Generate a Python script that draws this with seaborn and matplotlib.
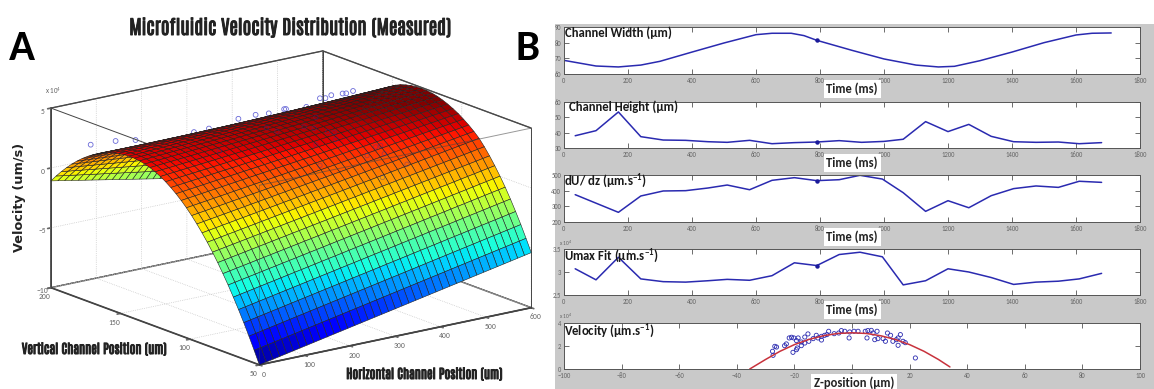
import numpy as np
import pandas as pd
import matplotlib
matplotlib.use("Agg")
import matplotlib.pyplot as plt
import matplotlib.patheffects as pe
from matplotlib import cm, colors
from matplotlib.patches import Rectangle
import seaborn as sns

W, H = 1154, 389

# ---------- panel A: velocity read along the two visible surface edges (x10^4 um/s)
vertical_pos = [50, 53.75, 57.5, 61.25, 65, 68.75, 72.5, 76.25, 80, 83.75, 87.5, 91.25, 95, 98.75,
                102.5, 106.25, 110, 113.75, 117.5, 121.25, 125, 128.75, 132.5, 136.25, 140, 143.75,
                147.5, 151.25, 155, 158.75, 162.5, 166.25, 170, 173.75, 177.5, 181.25, 185, 188.75,
                192.5, 196.25, 200]
edge_h0 = [-10.0, -8.95, -7.93, -6.96, -6.03, -5.15, -4.30, -3.51, -2.75, -2.04, -1.37, -0.75, -0.17,
           0.37, 0.86, 1.31, 1.71, 2.07, 2.39, 2.67, 2.90, 3.09, 3.23, 3.33, 3.39, 3.40, 3.37, 3.31,
           3.20, 3.06, 2.88, 2.65, 2.39, 2.09, 1.76, 1.38, 0.97, 0.51, 0.02, -0.51, -1.08]
edge_h600 = [-5.40, -4.37, -3.38, -2.45, -1.57, -0.74, 0.02, 0.73, 1.39, 1.99, 2.53, 2.95, 3.32, 3.65,
             3.95, 4.20, 4.42, 4.60, 4.75, 4.85, 4.90, 4.92, 4.90, 4.84, 4.74, 4.60, 4.40, 4.13, 3.80,
             3.40, 2.95, 2.43, 1.85, 1.20, 0.50, -0.30, -1.15, -2.10, -3.10, -4.20, -5.40]

# measured points behind the crest (y = 175)
back_h = [11, 66, 110, 239, 272, 337, 375, 404, 438, 442, 487, 517, 529, 542, 567, 575, 590]
back_z = [2.93, 2.80, 2.53, 2.17, 2.20, 2.50, 2.53, 2.42, 2.50, 2.48, 2.30, 2.78, 2.70, 2.84, 2.78, 2.73, 2.81]
# measured points faintly visible through the surface (y = 130)
thru_h = [483, 502, 513, 521, 571, 517, 379, 157, 261, 284, 344, 370, 366, 396, 410, 414, 370]
thru_z = [0.2, 0.77, 0.8, 0.04, -1.23, -1.9, 0.2, 3.15, 4.27, 3.8, 3.7, 4.3, 3.4, 2.9, 2.7, 2.1, 2.0]

# ---------- panel B
t_width = [0, 100, 170, 240, 300, 400, 500, 600, 650, 710, 750, 790, 900, 1000, 1100, 1170, 1220, 1300,
           1400, 1500, 1600, 1650, 1710]
channel_width = [68.7, 65.1, 64.5, 65.7, 68.1, 74.0, 79.8, 85.1, 86, 86, 84.5, 81.5, 75.1, 69.6, 65.7,
                 64.5, 64.9, 68.5, 74, 80, 84.9, 86, 86.2]
t_height = [35, 100, 170, 240, 310, 380, 450, 510, 580, 650, 720, 790, 860, 930, 1000, 1060, 1130, 1200,
            1265, 1335, 1405, 1475, 1545, 1610, 1680]
channel_height = [38.0, 41.3, 53.5, 37.4, 35.2, 35.0, 34.1, 33.7, 35, 32.8, 33.5, 33.9, 34.8, 33.7, 34.3,
                  35.7, 47.2, 40.7, 45.4, 37.6, 34.1, 33.7, 33.9, 32.8, 33.5]
t_grad = [35, 170, 240, 310, 380, 450, 510, 580, 650, 720, 790, 860, 925, 995, 1060, 1130, 1200, 1265,
          1335, 1405, 1475, 1545, 1610, 1680]
grad = [374.5, 261.7, 366, 398, 400, 417, 436, 406, 466, 483, 464, 470, 498, 474, 387, 268, 336, 291,
        368, 413, 430, 421, 460, 453]
t_umax = [35, 100, 170, 240, 310, 380, 450, 510, 580, 650, 720, 790, 860, 925, 995, 1060, 1130, 1200,
          1265, 1335, 1405, 1475, 1545, 1610, 1680]
umax = [3.07, 2.83, 3.32, 2.85, 2.79, 2.78, 2.81, 2.84, 2.82, 2.92, 3.20, 3.14, 3.38, 3.43, 3.33, 2.72,
        2.81, 3.07, 3.00, 2.88, 2.73, 2.78, 2.80, 2.85, 2.97]
z_fit = [-35.5, -30, -25, -20, -15, -10, -5, 0, 5, 10, 15, 20, 25, 30, 34]
v_fit = [0, 0.83, 1.54, 2.12, 2.57, 2.89, 3.09, 3.15, 3.09, 2.89, 2.57, 2.12, 1.54, 0.83, 0.18]
z_pts = [-27.6, -27.4, -26.8, -26.2, -23.4, -22.8, -21.8, -21.0, -20.2, -19.3, -18.7, -20.5, -19.3, -19.0,
         -17.6, -17.6, -16.4, -15.0, -16.4, -15.3, -13.5, -12.4, -11.8, -10.6, -10.6, -9.5, -8.7, -8.1,
         -6.2, -4.6, -3.7, -2.5, -1.0, -0.8, 0.7, 2.1, 4.6, 5.2, 5.5, 6.7, 7.3, 7.9, 8.7, 9.0, 10.8, 11.6,
         12.3, 13.4, 14.2, 15.4, 16.0, 16.0, 16.8, 17.7, 18.5, 22.0]
v_pts = [1.54, 1.19, 1.97, 1.91, 2.03, 2.18, 2.70, 2.76, 2.70, 2.47, 2.70, 1.45, 1.68, 1.83, 2.03, 2.35,
         2.26, 2.41, 2.78, 3.05, 2.64, 2.93, 2.70, 2.84, 2.52, 2.93, 2.99, 3.28, 3.07, 3.13, 3.34, 3.28,
         2.70, 3.22, 3.28, 3.28, 3.28, 2.70, 3.34, 3.36, 3.13, 2.55, 3.28, 2.64, 2.64, 2.41, 3.13, 2.93,
         2.41, 2.55, 2.70, 2.06, 2.99, 2.41, 2.29, 0.96]

time_ticks = [0, 200, 400, 600, 800, 1000, 1200, 1400, 1600, 1800]
z_ticks = [-100, -80, -60, -40, -20, 0, 20, 40, 60, 80, 100]

sns.set_theme(style="white")
plt.rcParams["font.family"] = ["Carlito", "Lato", "DejaVu Sans"]
plt.rcParams["mathtext.default"] = "regular"
NARROW = ["Antonio", "Oswald", "DejaVu Sans"]
CAL = ["Carlito", "Lato", "DejaVu Sans"]
HEAVY = [pe.withStroke(linewidth=0.7, foreground="#222222")]

fig = plt.figure(figsize=(W / 100, H / 100), dpi=100, facecolor="white")


def rect(l, t, r, b):
    return [l / W, 1 - b / H, (r - l) / W, (b - t) / H]


fig.add_artist(Rectangle((555 / W, 0), 1 - 555 / W, 1 - 24 / H, transform=fig.transFigure,
                         facecolor="#c9c9c9", edgecolor="none", zorder=-5))

# ---------- panel A
ax3 = fig.add_axes(rect(-17, -84, 583, 516), projection="3d", computed_zorder=False)
ax3.patch.set_alpha(0)
ax3.set_proj_type("ortho")
ax3.view_init(elev=16.2, azim=233)
ax3.set_box_aspect((344, 350, 189), zoom=0.842)

h = np.linspace(0, 600, 41)
Y, X = np.meshgrid(vertical_pos, h)
frac = X / 600
Z = (1 - frac) * np.array(edge_h0) + frac * np.array(edge_h600)
ax3.set_xlim(0, 600); ax3.set_ylim(50, 200); ax3.set_zlim(-10, 5)
norm = colors.Normalize(-10, 4.6)
facecol = cm.jet(norm((Z[:-1, :-1] + Z[1:, 1:]) / 2))
ax3.scatter(back_h, [175] * len(back_h), back_z, s=12, facecolors="none", edgecolors="#6a6ad8",
            linewidths=0.6, depthshade=False, zorder=1)
ax3.plot_surface(X, Y, Z, facecolors=facecol, rstride=1, cstride=1, shade=False,
                 edgecolor="#222222", linewidth=0.4, zorder=2, antialiased=True)
ax3.scatter(thru_h, [130] * len(thru_h), thru_z, s=10, facecolors="none", edgecolors="#3030a0",
            linewidths=0.6, alpha=0.4, depthshade=False, zorder=3)
for p, q, a, zo in [((0, 200, 5), (600, 200, 5), 1, 1), ((600, 200, 5), (600, 50, 5), 1, 1),
                    ((0, 200, 5), (0, 50, 5), 1, 1), ((0, 50, 5), (600, 50, 5), 0.55, 3),
                    ((0, 50, -10), (0, 50, 5), 0.4, 3), ((600, 50, -10), (600, 50, 5), 1, 1),
                    ((0, 200, -10), (0, 200, 5), 1, 1), ((600, 200, -10), (600, 200, 5), 1, 1),
                    ((0, 200, -10), (0, 50, -10), 1, 1), ((0, 50, -10), (600, 50, -10), 1, 1)]:
    ax3.plot(*zip(p, q), color="#444444", lw=0.7, alpha=a, zorder=zo)

ax3.set_xticks([0, 100, 200, 300, 400, 500, 600])
ax3.set_yticks([50, 100, 150, 200])
ax3.set_zticks([-10, -5, 0, 5])
for axis in (ax3.xaxis, ax3.yaxis, ax3.zaxis):
    axis.set_pane_color((1, 1, 1, 1))
    axis.pane.set_edgecolor("#555555")
    axis.line.set_color("#444444")
    axis._axinfo["grid"].update(color="#bbbbbb", linewidth=0.5, linestyle=":")
    axis._axinfo["tick"].update(inward_factor=0.15, outward_factor=0.0)
ax3.tick_params(labelsize=5.5, colors="#666666", pad=-3)
ax3.tick_params(axis="z", pad=-4)

fig.text(290 / W, 1 - 27 / H, "Microfluidic Velocity Distribution (Measured)", ha="center", va="center",
         fontsize=14, fontweight="bold", color="#222222", family=NARROW, path_effects=HEAVY)
fig.text(22 / W, 1 - 49 / H, "A", fontsize=31, fontweight="bold", ha="center", va="center", color="black",
         family=CAL)
fig.text(527 / W, 1 - 49 / H, "B", fontsize=31, fontweight="bold", ha="center", va="center", color="black",
         family=CAL)
fig.text(20 / W, 1 - 197 / H, "Velocity (um/s)", rotation=90, ha="center", va="center", fontsize=9.3,
         fontweight="bold", color="#222222", family=["DejaVu Sans"])
fig.text(94 / W, 1 - 349 / H, "Vertical Channel Position (um)", ha="center", va="center", fontsize=9.3,
         fontweight="bold", color="#222222", family=NARROW, path_effects=HEAVY)
fig.text(424 / W, 1 - 374 / H, "Horizontal Channel Position (um)", ha="center", va="center", fontsize=9.3,
         fontweight="bold", color="#222222", family=NARROW, path_effects=HEAVY)
fig.text(53 / W, 1 - 91 / H, "x 10$^{4}$", fontsize=5, color="#666666", ha="center", va="center")

# ---------- panel B
L, R = 564, 1140
panels = [
    (27, 74, t_width, channel_width, (60, 90), [60, 70, 80, 90], ["60", "70", "80", "90"],
     "Channel Width (µm)", 565, 33, 790, 81.5),
    (102, 148, t_height, channel_height, (30, 60), [30, 40, 50, 60], ["30", "40", "50", "60"],
     "Channel Height (µm)", 569, 107, 790, 33.9),
    (175, 222, t_grad, grad, (200, 500), [200, 300, 400, 500], ["200", "300", "400", "500"],
     "dU/ dz (µm.s$^{-1}$)", 564, 181, 790, 464),
    (249, 295, t_umax, umax, (2.5, 3.5), [2.5, 3, 3.5], ["2.5", "3", "3.5"],
     "Umax Fit (µm.s$^{-1}$)", 564, 256, 790, 3.14),
]


def style(ax):
    ax.set_facecolor("white")
    for s in ax.spines.values():
        s.set_color("#555555"); s.set_linewidth(0.7); s.set_visible(True)
    ax.tick_params(axis="both", direction="in", length=3.5, width=0.6, color="#555555", top=True, right=True,
                   labelsize=4.8, labelcolor="#666666", pad=2, bottom=True, left=True)
    ax.set_xlabel(""); ax.set_ylabel("")


def boxed_label(xc, yc, txt):
    fig.text(xc / W, 1 - yc / H, txt, ha="center", va="center", fontsize=9, fontweight="bold", color="#222222",
             bbox=dict(facecolor="white", edgecolor="none", pad=2), family=CAL)


for top, bot, tx, vy, yl, yt, ytl, lab, lx, ly, mx, my in panels:
    ax = fig.add_axes(rect(L, top, R, bot))
    sns.lineplot(x=tx, y=vy, ax=ax, color="#2a2ab0", lw=1.1, errorbar=None, estimator=None)
    ax.plot([mx], [my], "o", ms=2.2, color="#1a1a9a")
    ax.set_xlim(0, 1800); ax.set_ylim(*yl)
    ax.set_xticks(time_ticks); ax.set_yticks(yt); ax.set_yticklabels(ytl)
    style(ax)
    fig.text(lx / W, 1 - ly / H, lab, ha="left", va="center", fontsize=9.2, fontweight="bold",
             color="#1a1a1a", family=CAL)
    boxed_label(852, bot + 15, "Time (ms)")

axv = fig.add_axes(rect(L, 323, R, 369))
sns.lineplot(x=z_fit, y=v_fit, ax=axv, color="#c8323c", lw=1.1, errorbar=None, estimator=None)
sns.scatterplot(x=z_pts, y=v_pts, ax=axv, s=9, facecolor="none", edgecolor="#2a2ab0", linewidth=0.6, marker="o")
axv.set_xlim(-100, 100); axv.set_ylim(0, 4)
axv.set_xticks(z_ticks); axv.set_yticks([0, 2, 4]); axv.set_yticklabels(["0", "2", "4"])
style(axv)
fig.text(564 / W, 1 - 331 / H, "Velocity (µm.s$^{-1}$)", ha="left", va="center", fontsize=9.2,
         fontweight="bold", color="#1a1a1a", family=CAL)
boxed_label(854, 383, "Z-position (µm)")
for yy in (243, 316):
    fig.text(566 / W, 1 - yy / H, "x 10$^{4}$", fontsize=4, color="#666666", ha="center", va="center")

fig.savefig("out.png", dpi=100)
